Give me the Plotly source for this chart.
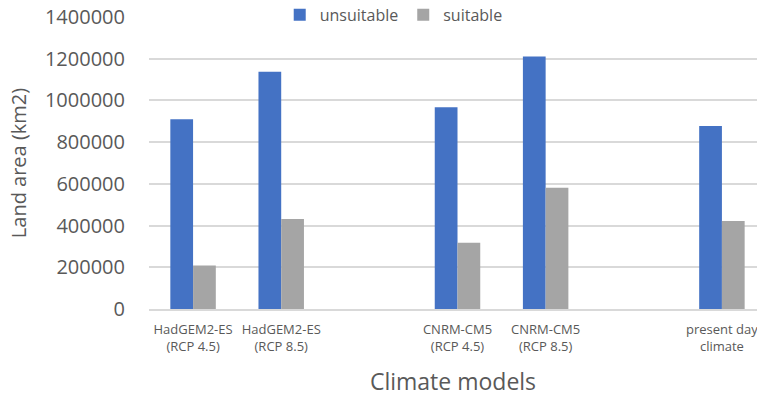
import plotly.graph_objects as go

categories = ["HadGEM2-ES<br>(RCP 4.5)", "HadGEM2-ES<br>(RCP 8.5)", " ",
              "CNRM-CM5<br>(RCP 4.5)", "CNRM-CM5<br>(RCP 8.5)", "  ",
              "present day<br>climate"]
unsuitable = [910000, 1137000, None, 967000, 1211000, None, 877000]
suitable = [208000, 432000, None, 318000, 581000, None, 422000]
y_ticks = [0, 200000, 400000, 600000, 800000, 1000000, 1200000, 1400000]

FONT = "Open Sans"
TXT = "#595959"

fig = go.Figure()
fig.add_trace(go.Bar(x=categories, y=unsuitable, name="unsuitable",
                     marker=dict(color="#4472C4", line=dict(width=0))))
fig.add_trace(go.Bar(x=categories, y=suitable, name="suitable",
                     marker=dict(color="#A5A5A5", line=dict(width=0))))

fig.update_layout(
    width=757, height=397,
    margin=dict(l=149, r=0, t=17, b=88, autoexpand=False),
    paper_bgcolor="white", plot_bgcolor="white",
    barmode="group", bargap=0.484, bargroupgap=0,
    font=dict(family=FONT, color=TXT),
    legend=dict(orientation="h", x=0.215, xanchor="left", y=1.007, yanchor="middle",
                bgcolor="rgba(0,0,0,0)", font=dict(size=16, color=TXT),
                itemwidth=30, traceorder="normal"),
    xaxis=dict(type="category", range=[-0.5, 6.398], showgrid=False, automargin=False,
               showline=True, linecolor="#d9d9d9", linewidth=1.5,
               tickfont=dict(size=13, color=TXT), ticks="", ticklabelstandoff=8,
               title=dict(text="Climate models", font=dict(size=23, color=TXT), standoff=27)),
    yaxis=dict(range=[0, 1400000], tickvals=y_ticks, ticktext=[str(v) for v in y_ticks],
               showgrid=True, gridcolor="#d9d9d9", gridwidth=1.5, zeroline=False,
               showline=False, tickfont=dict(size=20, color=TXT), ticks="", automargin=False,
               ticklabelstandoff=23,
               title=dict(text="Land area (km2)", font=dict(size=20, color=TXT), standoff=12)),
)

fig.write_html("out.html", config={"displayModeBar": False},
               post_script="document.body.style.margin='0';document.body.style.overflow='hidden';")
